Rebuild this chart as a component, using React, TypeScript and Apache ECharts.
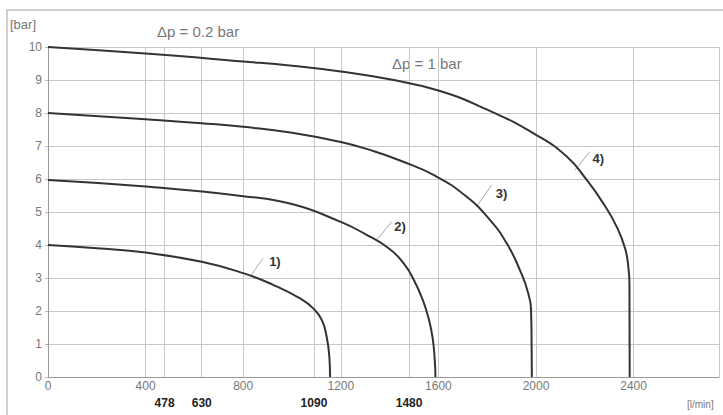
import React, { useEffect, useRef } from "react";
import * as echarts from "echarts";

const xTicks = [0, 400, 800, 1200, 1600, 2000, 2400];
const markedFlows = [478, 630, 1090, 1480];
const curveNames = ["1)", "2)", "3)", "4)"];
const curve1 = [[0, 4], [200, 3.9], [400, 3.77], [630, 3.49], [803, 3.14], [923, 2.79], [1033, 2.38], [1087, 2.08], [1122, 1.73], [1142, 1.22], [1153, 0.62], [1156, 0]];
const curve2 = [[0, 5.97], [400, 5.77], [800, 5.48], [1000, 5.24], [1200, 4.7], [1300, 4.33], [1400, 3.88], [1460, 3.42], [1500, 2.93], [1535, 2.35], [1559, 1.8], [1576, 1.2], [1585, 0.52], [1588, 0]];
const curve3 = [[0, 8], [400, 7.81], [630, 7.69], [800, 7.58], [1000, 7.4], [1200, 7.12], [1333, 6.85], [1443, 6.56], [1586, 6.1], [1716, 5.46], [1811, 4.76], [1880, 4.05], [1934, 3.24], [1968, 2.54], [1980, 1.93], [1982, 1], [1983, 0]];
const curve4 = [[0, 10], [400, 9.8], [800, 9.56], [1000, 9.43], [1200, 9.26], [1400, 9.02], [1600, 8.68], [1800, 8.1], [2000, 7.34], [2126, 6.68], [2208, 5.97], [2276, 5.26], [2331, 4.55], [2365, 3.9], [2379, 3.3], [2383, 2.8], [2384, 0]];
// leader lines [from, to] and label anchor, in data units
const leaders = [
  [[828, 3.04], [882, 3.6]],
  [[1347, 4.15], [1409, 4.71]],
  [[1757, 5.16], [1818, 5.82]],
  [[2160, 6.27], [2221, 6.83]],
];
const labelAnchors = [[930, 3.49], [1443, 4.55], [1859, 5.57], [2255, 6.63]];

export default function App() {
  const ref = useRef<HTMLDivElement>(null);
  useEffect(() => {
    const chart = echarts.init(ref.current!, null, { renderer: "svg" });
    const curves = [curve1, curve2, curve3, curve4];
    const font = "Liberation Sans, Arial, sans-serif";
    const series: any[] = curves.map((c, i) => ({
      type: "line",
      data: c,
      smooth: 0.5,
      symbol: "none",
      lineStyle: { color: "#333", width: 2 },
      z: 5,
      markLine: {
        symbol: "none",
        silent: true,
        lineStyle: { color: "#aaa", width: 1, type: "solid" },
        label: { show: false },
        data: [[{ coord: leaders[i][0] }, { coord: leaders[i][1] }]],
      },
      markPoint: {
        symbol: "circle",
        symbolSize: 0,
        silent: true,
        label: {
          show: true,
          position: "inside",
          formatter: curveNames[i],
          color: "#333",
          fontWeight: "bold",
          fontSize: 13,
          fontFamily: font,
        },
        data: [{ coord: labelAnchors[i] }],
      },
    }));
    series.push({
      type: "line",
      data: [],
      markLine: {
        symbol: "none",
        silent: true,
        lineStyle: { color: "#c8c8c8", width: 1, type: "solid" },
        label: {
          show: true,
          position: "start",
          formatter: (p: any) => String(p.value),
          color: "#222",
          fontWeight: "bold",
          fontSize: 12,
          fontFamily: font,
          distance: 20,
        },
        data: markedFlows.map((v) => ({ xAxis: v })),
      },
    });
    chart.setOption({
      animation: false,
      backgroundColor: "#fff",
      grid: { left: 48, right: 4, top: 47, bottom: 38 },
      xAxis: {
        type: "value",
        min: 0,
        max: 2750,
        interval: 400,
        axisLine: { show: true, lineStyle: { color: "#999" } },
        axisTick: { show: false },
        axisLabel: {
          color: "#777",
          fontSize: 12,
          fontFamily: font,
          margin: 3,
          showMaxLabel: false,
          formatter: (v: number) => (xTicks.includes(v) ? String(v) : ""),
        },
        splitLine: { show: true, lineStyle: { color: "#c8c8c8", width: 1 } },
      },
      yAxis: {
        type: "value",
        min: 0,
        max: 10,
        interval: 1,
        axisLine: { show: true, lineStyle: { color: "#999" } },
        axisTick: { show: true, length: 3, lineStyle: { color: "#bbb" } },
        axisLabel: { color: "#777", fontSize: 12, fontFamily: font, margin: 6 },
        splitLine: { show: true, lineStyle: { color: "#c8c8c8", width: 1 } },
      },
      graphic: [
        {
          type: "rect",
          shape: { x: 7, y: 10, width: 730, height: 420 },
          style: { fill: "none", stroke: "#d0d0d0", lineWidth: 2 },
          silent: true,
        },
        { type: "text", left: 10, top: 18, style: { text: "[bar]", fill: "#777", fontSize: 13, fontFamily: font } },
        { type: "text", left: 157, top: 24, style: { text: "Δp = 0.2 bar", fill: "#777", fontSize: 15, fontFamily: font } },
        { type: "text", left: 392, top: 56, style: { text: "Δp = 1 bar", fill: "#777", fontSize: 15, fontFamily: font } },
        { type: "text", left: 687, top: 399, style: { text: "[l/min]", fill: "#777", fontSize: 10, fontFamily: font } },
      ],
      series,
    });
    return () => chart.dispose();
  }, []);
  return <div ref={ref} style={{ position: "fixed", left: 0, top: 0, width: 723, height: 415 }} />;
}
